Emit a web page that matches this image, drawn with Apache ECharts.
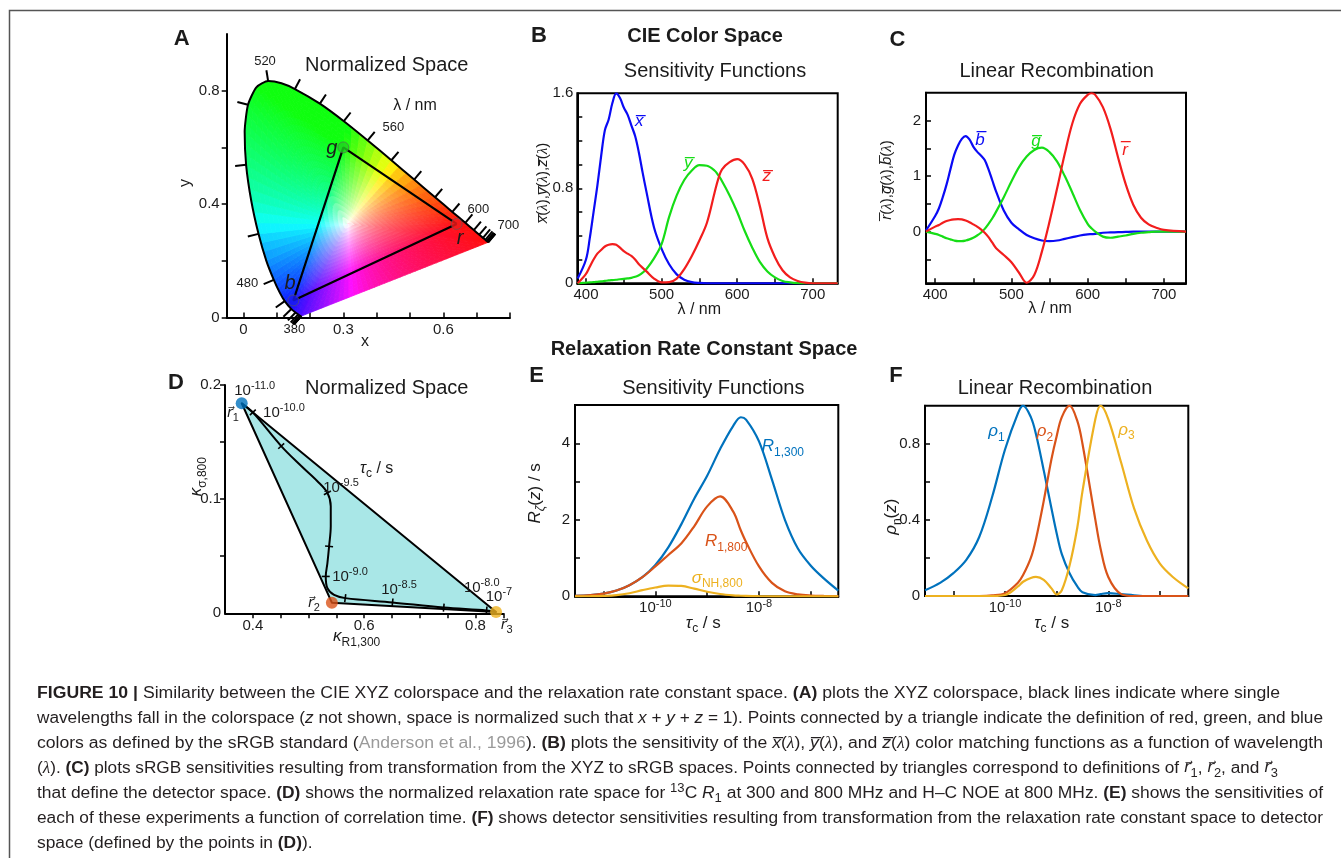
<!DOCTYPE html>
<html>
<head>
<meta charset="utf-8">
<title>Figure 10</title>
<script src="https://cdn.jsdelivr.net/npm/echarts@6.0.0/dist/echarts.min.js"></script>
<style>
  html, body { margin: 0; padding: 0; background: #fff; }
  #chart { width: 1341px; height: 858px; }
</style>
</head>
<body>
<div id="chart"></div>
<script>
const FONT = '"Liberation Sans", Arial, Helvetica, sans-serif';
const SERIF = '"Liberation Serif", "Times New Roman", serif';
const DEJA = '"DejaVu Sans", sans-serif';
const INK = '#1b1b1b';
const OL = '\u0305';   // combining overline
const VEC = '\u20D7';  // combining arrow above

// ---- A: CIE 1931 spectral locus (nm, x, y) ----
const cieWave = [380, 390, 400, 410, 420, 430, 440, 450, 460, 470, 475, 480, 485, 490, 495, 500, 505, 510, 515, 520, 525, 530, 540, 550, 560, 570, 580, 590, 600, 610, 620, 630, 640, 650, 660, 670, 680, 690, 700];
const cieX = [0.1741, 0.1738, 0.1733, 0.1726, 0.1714, 0.1689, 0.1644, 0.1566, 0.1440, 0.1241, 0.1096, 0.0913, 0.0687, 0.0454, 0.0235, 0.0082, 0.0039, 0.0139, 0.0389, 0.0743, 0.1142, 0.1547, 0.2296, 0.3016, 0.3731, 0.4441, 0.5125, 0.5752, 0.6270, 0.6658, 0.6915, 0.7079, 0.7190, 0.7260, 0.7300, 0.7320, 0.7334, 0.7344, 0.7347];
const cieY = [0.0050, 0.0049, 0.0048, 0.0048, 0.0051, 0.0069, 0.0109, 0.0177, 0.0297, 0.0578, 0.0868, 0.1327, 0.2007, 0.2950, 0.4127, 0.5384, 0.6548, 0.7502, 0.8120, 0.8338, 0.8262, 0.8059, 0.7543, 0.6923, 0.6245, 0.5547, 0.4866, 0.4242, 0.3725, 0.3340, 0.3083, 0.2920, 0.2809, 0.2740, 0.2700, 0.2680, 0.2666, 0.2656, 0.2653];
const whitePoint = [0.3127, 0.3290];
const primNames = ['r', 'g', 'b'];
const primX = [0.64, 0.30, 0.15];
const primY = [0.33, 0.60, 0.06];
const primColors = ['#f01c1c', '#1fd21f', '#1c1cf0'];

// ---- B: sensitivity functions ----
const bWave = [389, 400, 405, 410, 415, 420, 425, 430, 435, 440, 445, 450, 455, 460, 465, 470, 475, 480, 490, 500, 510, 520, 530, 540, 550, 560, 570, 575, 580, 590, 600, 610, 620, 630, 640, 650, 660, 670, 680, 690, 700, 733];
const bXbar = [0.04, 0.20, 0.38, 0.60, 0.82, 1.07, 1.29, 1.38, 1.52, 1.60, 1.56, 1.48, 1.42, 1.33, 1.24, 1.10, 0.93, 0.77, 0.47, 0.29, 0.16, 0.075, 0.03, 0.01, 0.003, 0, 0, 0, 0, 0, 0, 0, 0, 0, 0, 0, 0, 0, 0, 0, 0, 0];
const bYbar = [0, 0.005, 0.008, 0.01, 0.013, 0.016, 0.02, 0.024, 0.027, 0.03, 0.034, 0.037, 0.041, 0.046, 0.055, 0.068, 0.09, 0.12, 0.21, 0.33, 0.56, 0.74, 0.87, 0.95, 0.995, 0.99, 0.95, 0.91, 0.86, 0.74, 0.6, 0.44, 0.3, 0.18, 0.1, 0.05, 0.02, 0.008, 0.002, 0, 0, 0];
const bZbar = [0, 0.08, 0.14, 0.20, 0.25, 0.28, 0.31, 0.325, 0.33, 0.325, 0.30, 0.27, 0.25, 0.23, 0.20, 0.16, 0.13, 0.10, 0.04, 0.008, 0.01, 0.04, 0.12, 0.23, 0.36, 0.51, 0.76, 0.88, 0.96, 1.02, 1.045, 1.0, 0.88, 0.65, 0.38, 0.22, 0.11, 0.05, 0.02, 0.005, 0, 0];

// ---- C: linear recombination (sRGB) ----
const cWave = [388, 400, 405, 410, 415, 420, 425, 430, 435, 440, 445, 450, 455, 460, 465, 470, 475, 480, 490, 500, 510, 520, 530, 540, 550, 560, 570, 580, 590, 600, 605, 610, 620, 630, 640, 650, 660, 670, 680, 690, 700, 729];
const cBbar = [0.02, 0.28, 0.42, 0.62, 0.85, 1.12, 1.38, 1.55, 1.67, 1.72, 1.66, 1.53, 1.44, 1.37, 1.29, 1.12, 0.92, 0.72, 0.38, 0.16, 0.04, -0.06, -0.12, -0.16, -0.17, -0.16, -0.13, -0.10, -0.07, -0.05, -0.045, -0.04, -0.02, -0.015, -0.01, -0.005, 0, 0, 0, 0, 0, 0];
const cGbar = [0, -0.04, -0.06, -0.09, -0.12, -0.14, -0.16, -0.17, -0.17, -0.16, -0.14, -0.11, -0.07, -0.02, 0.05, 0.14, 0.24, 0.36, 0.62, 0.90, 1.16, 1.35, 1.47, 1.51, 1.43, 1.26, 1.0, 0.70, 0.39, 0.14, 0.06, 0.0, -0.09, -0.11, -0.09, -0.07, -0.04, -0.02, -0.01, 0, 0, 0];
const cRbar = [0, 0.09, 0.12, 0.16, 0.19, 0.21, 0.22, 0.225, 0.22, 0.20, 0.17, 0.13, 0.09, 0.04, -0.02, -0.10, -0.20, -0.30, -0.42, -0.55, -0.74, -0.92, -0.78, -0.36, 0.18, 0.78, 1.40, 1.95, 2.30, 2.46, 2.49, 2.46, 2.24, 1.85, 1.33, 0.85, 0.48, 0.25, 0.13, 0.07, 0.03, 0];

// ---- D: normalized relaxation rate space ----
const dTriX = [0.380, 0.542, 0.837];
const dTriY = [0.184, 0.0093, 0.0012];
const dTriColors = ['#0072BD', '#D95319', '#EDB120'];
const dLocusTau = [-11, -10, -9.75, -9.65, -9.58, -9.5, -9.42, -9.33, -9.25, -9.15, -9, -8.92, -8.85, -8.75, -8.5, -8.25, -8, -7];
const dLocusX = [0.380, 0.400, 0.451, 0.487, 0.516, 0.534, 0.540, 0.540, 0.537, 0.534, 0.531, 0.534, 0.546, 0.566, 0.651, 0.743, 0.820, 0.837];
const dLocusY = [0.184, 0.176, 0.1465, 0.129, 0.1157, 0.1055, 0.0938, 0.0762, 0.0586, 0.044, 0.0323, 0.022, 0.0161, 0.0133, 0.0095, 0.005, 0.0025, 0.0012];
const dTickTau = [-10, -9.75, -9.5, -9.25, -9, -8.75, -8.5, -8.25, -8];

// ---- E: sensitivities vs log10(tau_c) ----
const eTau = [-11.55, -11.25, -11, -10.75, -10.5, -10.25, -10, -9.75, -9.5, -9.25, -9, -8.75, -8.5, -8.35, -8.25, -8, -7.75, -7.5, -7.25, -7, -6.75, -6.47];
const eR1300 = [0.01, 0.03, 0.07, 0.15, 0.29, 0.5, 0.82, 1.28, 1.88, 2.55, 3.15, 3.85, 4.45, 4.68, 4.62, 4.05, 3.05, 2.0, 1.25, 0.8, 0.47, 0.15];
const eR1800 = [0.01, 0.03, 0.07, 0.15, 0.29, 0.5, 0.78, 1.08, 1.38, 1.83, 2.35, 2.61, 2.22, 1.72, 1.42, 0.78, 0.35, 0.13, 0.05, 0.02, 0.01, 0.005];
const eSigma = [0, 0.003, 0.01, 0.03, 0.08, 0.16, 0.23, 0.28, 0.27, 0.2, 0.12, 0.06, 0.025, 0.015, 0.01, 0.003, 0, 0, 0, 0, 0, 0];

// ---- F: detector sensitivities ----
const fTau = [-11.55, -11.25, -11, -10.75, -10.5, -10.25, -10, -9.75, -9.65, -9.5, -9.4, -9.25, -9.1, -9, -8.9, -8.75, -8.6, -8.5, -8.25, -8.15, -8, -7.75, -7.5, -7.25, -7, -6.75, -6.45];
const fRho1 = [0.03, 0.07, 0.12, 0.19, 0.31, 0.52, 0.77, 0.96, 1.0, 0.94, 0.85, 0.66, 0.46, 0.33, 0.22, 0.12, 0.05, 0.02, 0.005, 0.01, 0.015, 0.01, 0.004, 0, 0, 0, 0];
const fRho2 = [0, 0, 0, 0, 0, 0.003, 0.015, 0.07, 0.11, 0.2, 0.3, 0.5, 0.72, 0.84, 0.94, 1.0, 0.92, 0.8, 0.4, 0.25, 0.1, 0.01, 0, 0, 0, 0, 0];
const fRho3 = [0, 0, 0, 0, 0, 0, 0.005, 0.05, 0.075, 0.095, 0.1, 0.085, 0.04, 0.008, 0.03, 0.16, 0.36, 0.55, 0.93, 1.0, 0.93, 0.7, 0.46, 0.29, 0.17, 0.1, 0.04];

// chromaticity -> display colour for the horseshoe fill
function xyToRgb(x, y) {
  const X = x / y, Z = (1 - x - y) / y;
  let r = 3.2406 * X - 1.5372 - 0.4986 * Z;
  let g = -0.9689 * X + 1.8758 + 0.0415 * Z;
  let b = 0.0557 * X - 0.2040 + 1.0570 * Z;
  r = Math.max(r, 0); g = Math.max(g, 0); b = Math.max(b, 0);
  const M = Math.max(r, g, b) || 1;
  const f = v => Math.round(255 * (0.94 * Math.pow(v / M, 0.75) + 0.06));
  return 'rgb(' + f(r) + ',' + f(g) + ',' + f(b) + ')';
}
function lerp2(a, b, t) { return [a[0] + (b[0] - a[0]) * t, a[1] + (b[1] - a[1]) * t]; }

function renderHorseshoe(params, api) {
  const bnd = cieWave.map((w, i) => [cieX[i], cieY[i]]);
  const e = bnd[bnd.length - 1], s = bnd[0];
  for (let k = 1; k <= 12; k++) bnd.push(lerp2(e, s, k / 12));
  const children = [];
  const R = 20, S = 3;
  for (let i = 0; i < bnd.length - 1; i++) {
    for (let j = 0; j < S; j++) {
      const a = lerp2(bnd[i], bnd[i + 1], j / S), b = lerp2(bnd[i], bnd[i + 1], (j + 1) / S);
      const mid = lerp2(a, b, 0.5);
      for (let k = 0; k < R; k++) {
        const t0 = k / R, t1 = (k + 1) / R;
        const q = [lerp2(whitePoint, a, t0), lerp2(whitePoint, a, t1), lerp2(whitePoint, b, t1), lerp2(whitePoint, b, t0)];
        const c = lerp2(whitePoint, mid, (t0 + t1) / 2);
        const col = xyToRgb(c[0], c[1]);
        children.push({ type: 'polygon', shape: { points: q.map(p => api.coord(p)) }, style: { fill: col, stroke: col, lineWidth: 0.8 } });
      }
    }
  }
  return { type: 'group', children: children };
}

const tickIdx = cieWave.map((w, i) => i).filter(i => cieWave[i] % 10 === 0);
function renderLocusTick(params, api) {
  const i = tickIdx[params.dataIndex];
  const n = cieWave.length;
  const pt = k => api.coord([cieX[k], cieY[k]]);
  let i0 = i, i1 = i;
  const dist = () => { const a = pt(i0), b = pt(i1); return Math.hypot(b[0] - a[0], b[1] - a[1]); };
  while (dist() < 14 && (i0 > 0 || i1 < n - 1)) { if (i0 > 0) i0--; if (i1 < n - 1) i1++; }
  const a = pt(i0), b = pt(i1), p = pt(i);
  let tx = b[0] - a[0], ty = b[1] - a[1];
  const L = Math.hypot(tx, ty) || 1; tx /= L; ty /= L;
  const len = 11;
  return { type: 'line', shape: { x1: p[0], y1: p[1], x2: p[0] + ty * len, y2: p[1] - tx * len }, style: { stroke: '#000', lineWidth: 2 } };
}

function renderDTick(params, api) {
  const i = dLocusTau.indexOf(dTickTau[params.dataIndex]);
  const pt = k => api.coord([dLocusX[k], dLocusY[k]]);
  const a = pt(Math.max(i - 1, 0)), b = pt(Math.min(i + 1, dLocusTau.length - 1)), p = pt(i);
  let tx = b[0] - a[0], ty = b[1] - a[1];
  const L = Math.hypot(tx, ty) || 1; tx /= L; ty /= L;
  const len = 4;
  return { type: 'line', shape: { x1: p[0] - ty * len, y1: p[1] + tx * len, x2: p[0] + ty * len, y2: p[1] - tx * len }, style: { stroke: '#000', lineWidth: 1.6 } };
}

function renderTriangle(params, api) {
  const pts = dTriX.map((x, i) => api.coord([x, dTriY[i]]));
  return { type: 'polygon', shape: { points: pts }, style: { fill: '#a9e7e7', stroke: '#000', lineWidth: 2, lineJoin: 'round' } };
}

// ---- text helpers ----
function richSet(size, color) {
  const s = Math.round(size * 0.72);
  const f = o => Object.assign({ fontFamily: FONT, fontSize: size, fontStyle: 'normal', fontWeight: 'normal', fill: color, lineHeight: size + 6 }, o);
  return {
    n: f({}),
    i: f({ fontStyle: 'italic' }),
    b: f({ fontWeight: 'bold' }),
    g: f({ fill: '#9a9a9a' }),
    l: f({ fontFamily: SERIF, fontStyle: 'italic' }),
    v: f({ fontFamily: DEJA, fontStyle: 'italic', fontSize: size - 1 }),
    sup: f({ fontSize: s, lineHeight: s, verticalAlign: 'top' }),
    sub: f({ fontSize: s, lineHeight: s, verticalAlign: 'bottom' }),
    isub: f({ fontSize: s, lineHeight: s, verticalAlign: 'bottom', fontStyle: 'italic' })
  };
}
function txt(x, y, text, o) {
  o = o || {};
  const size = o.size || 15, color = o.color || INK;
  return {
    type: 'text', x: x, y: y, rotation: o.rot || 0, scaleX: o.sx || 1, z: 100, silent: true,
    style: {
      text: text, fill: color, fontFamily: FONT, fontSize: size,
      fontWeight: o.bold ? 'bold' : 'normal', fontStyle: o.italic ? 'italic' : 'normal',
      lineHeight: size + 6,
      align: o.align || 'center', textAlign: o.align || 'center',
      verticalAlign: o.va || 'middle', textVerticalAlign: o.va || 'middle',
      rich: richSet(size, color)
    }
  };
}
const measureCtx = document.createElement('canvas').getContext('2d');
function richWidth(line, size) {
  const rs = richSet(size, INK);
  const re = /\{(\w+)\|([^}]*)\}|([^{]+)/g;
  let m, w = 0;
  while ((m = re.exec(line))) {
    const st = m[1] ? rs[m[1]] : rs.n;
    measureCtx.font = st.fontStyle + ' ' + st.fontWeight + ' ' + st.fontSize + 'px ' + st.fontFamily;
    w += measureCtx.measureText(m[1] ? m[2] : m[3]).width;
  }
  return w;
}

function axis(grid, min, max, ticks, labels, inside, margin, extra) {
  const a = {
    type: 'value', gridIndex: grid, min: min, max: max,
    axisLine: { show: true, onZero: false, lineStyle: { color: '#000', width: 2 } },
    axisTick: { show: true, inside: inside, length: 5, customValues: ticks, lineStyle: { color: '#000', width: 1.5 } },
    axisLabel: { customValues: labels, margin: margin, fontFamily: FONT, fontSize: 15, color: INK },
    splitLine: { show: false }
  };
  if (extra) Object.assign(a.axisLabel, extra);
  return a;
}
const expLabel = {
  formatter: v => '10{s|' + v + '}', lineHeight: 20,
  rich: { s: { fontSize: 11, lineHeight: 11, verticalAlign: 'top', fontFamily: FONT, color: INK } }
};

function curve(xi, xs, ys, color) {
  return {
    type: 'line', xAxisIndex: xi, yAxisIndex: xi, data: xs.map((x, i) => [x, ys[i]]),
    showSymbol: false, symbol: 'none', smooth: 0.35, z: 3, silent: true,
    lineStyle: { color: color, width: 2.2 }
  };
}

const BLUE = '#0a0af5', GREEN = '#16dd16', RED = '#f21d1d';
const MB = '#0072BD', MO = '#D95319', MY = '#EDB120';
const boxGrid = { show: true, borderColor: '#000', borderWidth: 2, backgroundColor: 'transparent', containLabel: false, outerBoundsMode: 'none' };
const rv = k => '{v|r' + VEC + '}{sub|' + k + '}';

const captionLines = [
  '{b|FIGURE 10 |} Similarity between the CIE XYZ colorspace and the relaxation rate constant space. {b|(A)} plots the XYZ colorspace, black lines indicate where single',
  'wavelengths fall in the colorspace ({i|z} not shown, space is normalized such that {i|x} + {i|y} + {i|z} = 1). Points connected by a triangle indicate the definition of red, green, and blue',
  'colors as defined by the sRGB standard ({g|Anderson et al., 1996}). {b|(B)} plots the sensitivity of the {i|x' + OL + '}({l|λ}), {i|y' + OL + '}({l|λ}), and {i|z' + OL + '}({l|λ}) color matching functions as a function of wavelength',
  '({l|λ}). {b|(C)} plots sRGB sensitivities resulting from transformation from the XYZ to sRGB spaces. Points connected by triangles correspond to definitions of ' + rv(1) + ', ' + rv(2) + ', and ' + rv(3),
  'that define the detector space. {b|(D)} shows the normalized relaxation rate space for {sup|13}C {i|R}{sub|1} at 300 and 800 MHz and H–C NOE at 800 MHz. {b|(E)} shows the sensitivities of',
  'each of these experiments a function of correlation time. {b|(F)} shows detector sensitivities resulting from transformation from the relaxation rate constant space to detector',
  'space (defined by the points in {b|(D)}).'
];
const captionLeft = 37;
const captionRight = [1280, 1323, 1323, 1278, 1323, 1323, null];

const texts = [
  { type: 'rect', shape: { x: 9.5, y: 10.5, width: 1400, height: 900 }, style: { fill: 'none', stroke: '#555', lineWidth: 1.5 }, silent: true },
  // panel letters
  txt(181.7, 39, 'A', { size: 22, bold: true }),
  txt(539, 36, 'B', { size: 22, bold: true }),
  txt(897.5, 40, 'C', { size: 22, bold: true }),
  txt(176, 383, 'D', { size: 22, bold: true }),
  txt(536.7, 376, 'E', { size: 22, bold: true }),
  txt(896, 376, 'F', { size: 22, bold: true }),
  // headings and titles
  txt(705, 36.7, 'CIE Color Space', { size: 20, bold: true }),
  txt(704, 349, 'Relaxation Rate Constant Space', { size: 20, bold: true }),
  txt(386.7, 65.7, 'Normalized Space', { size: 20 }),
  txt(715, 71.7, 'Sensitivity Functions', { size: 20 }),
  txt(1056.7, 71.7, 'Linear Recombination', { size: 20 }),
  txt(386.7, 388.3, 'Normalized Space', { size: 20 }),
  txt(713.3, 388.3, 'Sensitivity Functions', { size: 20 }),
  txt(1055, 388.3, 'Linear Recombination', { size: 20 }),
  // A annotations
  txt(265, 61.7, '520', { size: 13 }),
  txt(393.3, 127.3, '560', { size: 13 }),
  txt(478.3, 209.3, '600', { size: 13 }),
  txt(508.3, 225, '700', { size: 13 }),
  txt(247.3, 283.3, '480', { size: 13 }),
  txt(294.3, 329, '380', { size: 13 }),
  txt(415, 106, 'λ / nm', { size: 16 }),
  txt(331.7, 148.3, 'g', { size: 20, italic: true }),
  txt(460, 238.3, 'r', { size: 20, italic: true }),
  txt(290, 283.3, 'b', { size: 20, italic: true }),
  txt(186, 183, 'y', { size: 16, rot: Math.PI / 2 }),
  txt(365, 341.7, 'x', { size: 16 }),
  // B annotations
  txt(542.7, 183, '{i|x' + OL + '}({l|λ}),{i|y' + OL + '}({l|λ}),{i|z' + OL + '}({l|λ})', { size: 15, rot: Math.PI / 2 }),
  txt(699.3, 310, 'λ / nm', { size: 16 }),
  txt(639.3, 121.7, '{i|x' + OL + '}', { size: 17, color: BLUE }),
  txt(688.3, 163.3, '{i|y' + OL + '}', { size: 17, color: GREEN }),
  txt(766.7, 176.7, '{i|z' + OL + '}', { size: 17, color: RED }),
  // C annotations
  txt(886.7, 180, '{i|r' + OL + '}({l|λ}),{i|g' + OL + '}({l|λ}),{i|b' + OL + '}({l|λ})', { size: 15, rot: Math.PI / 2 }),
  txt(1050, 308.3, 'λ / nm', { size: 16 }),
  txt(980, 140, '{i|b' + OL + '}', { size: 17, color: BLUE }),
  txt(1036, 141.7, '{i|g' + OL + '}', { size: 17, color: GREEN }),
  txt(1125, 150, '{i|r' + OL + '}', { size: 17, color: RED }),
  // D annotations
  txt(196.7, 476.7, '{i|κ}{sub|σ,800}', { size: 17, rot: Math.PI / 2 }),
  txt(356.7, 636.7, '{i|κ}{sub|R1,300}', { size: 17 }),
  txt(254.7, 390.7, '10{sup|-11.0}', { size: 15 }),
  txt(284, 413.3, '10{sup|-10.0}', { size: 15 }),
  txt(376.7, 468.3, '{i|τ}{sub|c} / s', { size: 16 }),
  txt(341, 488.3, '10{sup|-9.5}', { size: 15 }),
  txt(350, 576.7, '10{sup|-9.0}', { size: 15 }),
  txt(399, 590, '10{sup|-8.5}', { size: 15 }),
  txt(481.7, 588.3, '10{sup|-8.0}', { size: 15 }),
  txt(499, 596.7, '10{sup|-7}', { size: 15 }),
  txt(233, 413.3, rv(1), { size: 15 }),
  txt(314, 603.3, rv(2), { size: 15 }),
  txt(506.7, 625, rv(3), { size: 15 }),
  // E annotations
  txt(535, 493.3, '{i|R}{isub|ζ}({i|z}) / s', { size: 17, rot: Math.PI / 2 }),
  txt(703.3, 623.3, '{i|τ}{sub|c} / s', { size: 17 }),
  txt(761.7, 446.7, '{i|R}{sub|1,300}', { size: 17, color: MB, align: 'left' }),
  txt(705, 541.7, '{i|R}{sub|1,800}', { size: 17, color: MO, align: 'left' }),
  txt(691.7, 578.3, '{i|σ}{sub|NH,800}', { size: 17, color: MY, align: 'left' }),
  // F annotations
  txt(891.7, 516.7, '{i|ρ}{sub|n}({i|z})', { size: 17, rot: Math.PI / 2 }),
  txt(1051.7, 623.3, '{i|τ}{sub|c} / s', { size: 17 }),
  txt(988.3, 431.7, '{i|ρ}{sub|1}', { size: 17, color: MB, align: 'left' }),
  txt(1036.7, 431.7, '{i|ρ}{sub|2}', { size: 17, color: MO, align: 'left' }),
  txt(1118.3, 430, '{i|ρ}{sub|3}', { size: 17, color: MY, align: 'left' })
];
const capScales = captionLines.map((line, k) => captionRight[k] ? (captionRight[k] - captionLeft) / richWidth(line, 16) : null);
const capKnown = capScales.filter(s => s);
const capMean = capKnown.reduce((a, b) => a + b, 0) / capKnown.length;
captionLines.forEach((line, k) => {
  texts.push(txt(captionLeft, 693.3 + k * 25.1, line, { size: 16, align: 'left', color: '#231f20', sx: capScales[k] || capMean }));
});

const chart = echarts.init(document.getElementById('chart'), null, { renderer: 'canvas' });
chart.setOption({
  animation: false,
  backgroundColor: '#fff',
  textStyle: { fontFamily: FONT },
  grid: [
    { left: 226.7, top: 34, width: 283.3, height: 283.5, show: false, containLabel: false, outerBoundsMode: 'none' },
    Object.assign({ left: 577.3, top: 93.3, width: 260.4, height: 190 }, boxGrid),
    Object.assign({ left: 926, top: 92.7, width: 260, height: 190.6 }, boxGrid),
    { left: 225, top: 385, width: 278.3, height: 228.3, show: false, containLabel: false, outerBoundsMode: 'none' },
    Object.assign({ left: 575, top: 405, width: 263.3, height: 191.3 }, boxGrid),
    Object.assign({ left: 925, top: 405.7, width: 263.3, height: 190.3 }, boxGrid)
  ],
  xAxis: [
    axis(0, -0.05, 0.8, [0, 0.1, 0.2, 0.3, 0.4, 0.5, 0.6, 0.7, 0.8], [0, 0.3, 0.6], true, 5),
    axis(1, 388.5, 733, [400, 450, 500, 550, 600, 650, 700], [400, 500, 600, 700], true, 4),
    axis(2, 388, 729, [400, 450, 500, 550, 600, 650, 700], [400, 500, 600, 700], true, 4),
    axis(3, 0.35, 0.85, [0.4, 0.45, 0.5, 0.55, 0.6, 0.65, 0.7, 0.75, 0.8, 0.85], [0.4, 0.6, 0.8], false, 5),
    axis(4, -11.55, -6.47, [-11, -10, -9, -8, -7], [-10, -8], true, 2, expLabel),
    axis(5, -11.55, -6.45, [-11, -10, -9, -8, -7], [-10, -8], true, 2, expLabel)
  ],
  yAxis: [
    axis(0, 0, 1.0, [0, 0.2, 0.4, 0.6, 0.8], [0, 0.4, 0.8], false, 7),
    axis(1, 0, 1.6, [0.2, 0.4, 0.6, 0.8, 1.0, 1.2, 1.4], [0, 0.8, 1.6], true, 4),
    axis(2, -0.93, 2.5, [-0.5, 0, 0.5, 1, 1.5, 2], [0, 1, 2], true, 5),
    axis(3, 0, 0.2, [0.05, 0.1, 0.15, 0.2], [0, 0.1, 0.2], false, 4),
    axis(4, 0, 5, [1, 2, 3, 4], [0, 2, 4], true, 5),
    axis(5, 0, 1, [0.2, 0.4, 0.6, 0.8], [0, 0.4, 0.8], true, 5)
  ],
  graphic: { elements: texts },
  series: [
    // A
    { type: 'custom', xAxisIndex: 0, yAxisIndex: 0, z: 1, silent: true, clip: false, data: [whitePoint], renderItem: renderHorseshoe },
    { type: 'line', xAxisIndex: 0, yAxisIndex: 0, z: 3, silent: true, showSymbol: false, symbol: 'none', smooth: 0.2, clip: false,
      data: cieWave.map((w, i) => [cieX[i], cieY[i]]), lineStyle: { color: '#000', width: 2 } },
    { type: 'custom', xAxisIndex: 0, yAxisIndex: 0, z: 3, silent: true, clip: false, data: tickIdx.map(i => [cieX[i], cieY[i]]), renderItem: renderLocusTick },
    { type: 'line', xAxisIndex: 0, yAxisIndex: 0, z: 4, silent: true, showSymbol: false, symbol: 'none', clip: false,
      data: primX.concat(primX[0]).map((x, i) => [x, primY.concat(primY[0])[i]]), lineStyle: { color: '#000', width: 2.2 } },
    { type: 'scatter', xAxisIndex: 0, yAxisIndex: 0, z: 5, silent: true, symbolSize: 11, clip: false,
      data: primX.map((x, i) => ({ name: primNames[i], value: [x, primY[i]], itemStyle: { color: primColors[i], borderColor: 'rgba(90,90,90,0.8)', borderWidth: 1 } })) },
    // B
    curve(1, bWave, bXbar, BLUE),
    curve(1, bWave, bYbar, GREEN),
    curve(1, bWave, bZbar, RED),
    // C
    curve(2, cWave, cBbar, BLUE),
    curve(2, cWave, cGbar, GREEN),
    curve(2, cWave, cRbar, RED),
    // D
    { type: 'custom', xAxisIndex: 3, yAxisIndex: 3, z: 1, silent: true, clip: false, data: [[dTriX[0], dTriY[0]]], renderItem: renderTriangle },
    { type: 'line', xAxisIndex: 3, yAxisIndex: 3, z: 3, silent: true, showSymbol: false, symbol: 'none', smooth: 0.35, clip: false,
      data: dLocusX.map((x, i) => [x, dLocusY[i]]), lineStyle: { color: '#000', width: 2 } },
    { type: 'custom', xAxisIndex: 3, yAxisIndex: 3, z: 3, silent: true, clip: false,
      data: dTickTau.map(t => { const i = dLocusTau.indexOf(t); return [dLocusX[i], dLocusY[i]]; }), renderItem: renderDTick },
    { type: 'scatter', xAxisIndex: 3, yAxisIndex: 3, z: 5, silent: true, symbolSize: 12, clip: false,
      data: dTriX.map((x, i) => ({ value: [x, dTriY[i]], itemStyle: { color: dTriColors[i] } })) },
    // E
    curve(4, eTau, eR1300, MB),
    curve(4, eTau, eR1800, MO),
    curve(4, eTau, eSigma, MY),
    // F
    curve(5, fTau, fRho1, MB),
    curve(5, fTau, fRho2, MO),
    curve(5, fTau, fRho3, MY)
  ]
});
</script>
</body>
</html>
